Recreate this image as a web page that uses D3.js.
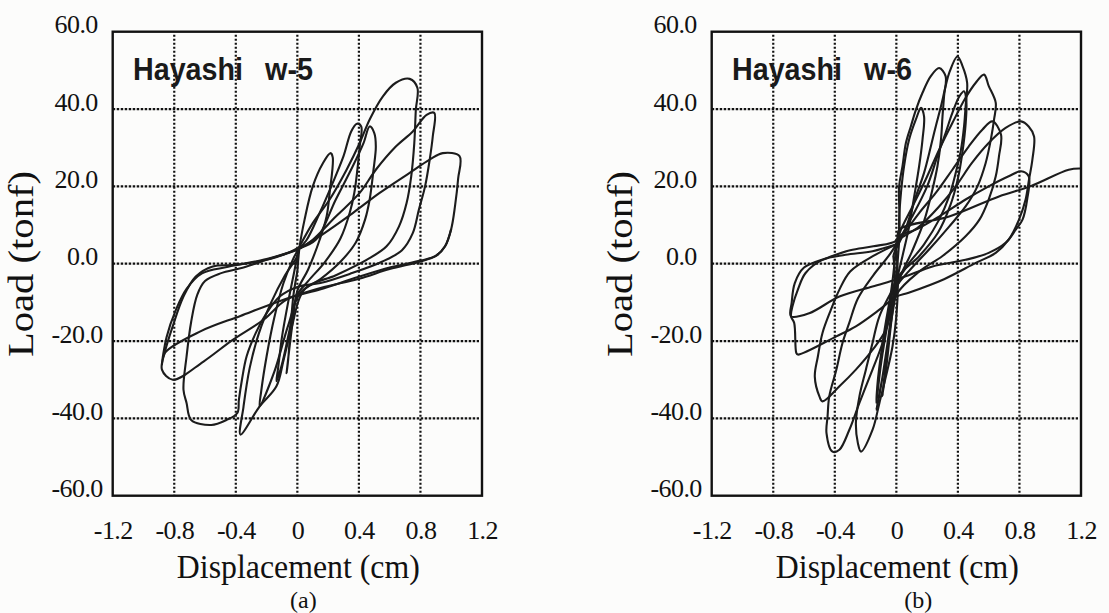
<!DOCTYPE html>
<html>
<head>
<meta charset="utf-8">
<script src="https://cdn.jsdelivr.net/npm/d3@7"></script>
<style>
  body { margin: 0; background: #fcfcfb; }
  svg { display: block; }
  .tick-label { font-family: "Liberation Serif", "Times New Roman", serif; font-size: 26px; fill: #111; letter-spacing: -0.6px; }
  .axis-title { font-family: "Liberation Serif", "Times New Roman", serif; fill: #111; }
  .specimen { font-family: "Liberation Sans", Arial, sans-serif; font-weight: bold; font-size: 31px; fill: #1a1a1a; }
</style>
</head>
<body>
<svg id="chart" width="1109" height="613"></svg>
<script>
// axis ticks (displacement in cm, load in tonf)
const dispTicks = [-1.2, -0.8, -0.4, 0, 0.4, 0.8, 1.2];
const loadTicks = [-60, -40, -20, 0, 20, 40, 60];
const dispGrid = [-0.8, -0.4, 0, 0.4, 0.8];
const loadGrid = [-40, -20, 0, 20, 40];

const specimenNames = ["w-5", "w-6"];
const panelLetters = ["(a)", "(b)"];

// hysteresis cycles, [displacement, load]
const w5Loops = [
  [[0.0,-2],[0.015,4.5],[0.047,11.4],[0.10,20],[0.166,26],[0.216,28.6],[0.23,27.5],[0.21,18.4],[0.19,12.2],[0.145,6.2],[0.07,-1.5],[0.0,-7],[-0.03,-15],[-0.055,-23],[-0.07,-28.3],[-0.06,-25],[-0.045,-17],[-0.025,-8],[0.0,-2]],
  [[0.01,4],[0.058,6],[0.145,13.1],[0.23,20.9],[0.30,27.8],[0.35,34.2],[0.387,36.2],[0.415,35.5],[0.405,30.3],[0.39,24.3],[0.37,18.3],[0.34,13.1],[0.28,6.5],[0.18,0.5],[0.07,-4.5],[0.0,-8],[-0.05,-17],[-0.10,-26],[-0.136,-30.4],[-0.125,-27],[-0.10,-19],[-0.06,-10],[-0.02,-2],[0.01,4]],
  [[0.01,4],[0.12,6.2],[0.25,16.6],[0.36,25.2],[0.43,31.2],[0.47,35.5],[0.50,33.8],[0.51,30.3],[0.495,24.3],[0.47,16.6],[0.44,11.4],[0.38,5.5],[0.28,0.5],[0.15,-4],[0.02,-7.5],[-0.06,-16],[-0.15,-28],[-0.245,-36.9],[-0.235,-33],[-0.2,-24],[-0.15,-14],[-0.09,-5],[-0.03,1],[0.01,4]],
  [[0.015,4.5],[0.10,10.5],[0.21,16.6],[0.32,24.3],[0.405,31.2],[0.47,37.3],[0.556,43.3],[0.64,46.8],[0.73,47.8],[0.78,45.5],[0.77,39.8],[0.76,31.2],[0.74,22.6],[0.71,15.7],[0.66,9.6],[0.58,4.5],[0.45,1],[0.25,-3],[0.05,-6.5],[-0.04,-17],[-0.09,-25],[-0.136,-31.7],[-0.245,-36.9],[-0.37,-44.2],[-0.35,-37],[-0.31,-27],[-0.25,-18],[-0.17,-10],[-0.08,-3],[0.0,2],[0.015,4.5]],
  [[0.02,4],[0.10,6.2],[0.25,12.2],[0.405,18.3],[0.51,24.3],[0.64,30.3],[0.75,34.2],[0.84,38.5],[0.89,39.0],[0.88,32.9],[0.86,26.9],[0.83,20],[0.79,14],[0.75,7.9],[0.68,3.5],[0.55,0.5],[0.35,-2.5],[0.15,-5],[0.0,-6],[-0.115,-8.5],[-0.2,-12.8],[-0.27,-17.9],[-0.33,-24],[-0.36,-30],[-0.38,-35.2],[-0.39,-38.6],[-0.46,-40.4],[-0.56,-41.7],[-0.69,-40.4],[-0.72,-36],[-0.74,-32.6],[-0.72,-24],[-0.69,-15],[-0.65,-8],[-0.6,-4.5],[-0.5,-2.5],[-0.35,-1],[-0.2,1],[-0.05,3],[0.02,4.5]],
  [[0.0,3.6],[0.145,7.1],[0.36,13.1],[0.535,18.3],[0.73,23.5],[0.86,26.9],[0.945,28.6],[1.054,27.8],[1.045,22],[1.025,15],[1.0,9],[0.96,4.5],[0.9,2],[0.8,0.8],[0.6,-1],[0.4,-3.4],[0.146,-6.7],[-0.07,-9.3],[-0.22,-14.5],[-0.42,-19.7],[-0.61,-25.3],[-0.81,-30],[-0.88,-27.4],[-0.86,-22.7],[-0.81,-16.2],[-0.74,-8.5],[-0.66,-3.3],[-0.55,-0.7],[-0.40,-0.3],[-0.2,1.0],[0.0,3.6]],
  [[1.0,9],[0.96,4.5],[0.9,2],[0.8,0.6],[0.6,-1.4],[0.4,-3.9],[0.15,-6.3],[-0.09,-9.3],[-0.37,-13.5],[-0.63,-17.5],[-0.86,-23],[-0.88,-26],[-0.85,-19],[-0.79,-12],[-0.72,-6.5],[-0.62,-2.5],[-0.45,-0.8],[-0.2,1.2],[0.0,3.6]]
];

const w6Loops = [
  [[0.0,-3],[0.018,6],[0.018,11.4],[0.03,18.3],[0.05,25.2],[0.083,32.1],[0.127,37.3],[0.16,40.3],[0.18,38.1],[0.17,32.1],[0.148,25.2],[0.116,17.4],[0.08,9],[0.04,2],[0.0,-5],[-0.03,-14],[-0.06,-25],[-0.09,-34.3],[-0.08,-30],[-0.05,-20],[-0.02,-10],[0.0,-3]],
  [[-0.02,2],[0.018,8],[0.018,20],[0.04,25.2],[0.062,31.2],[0.094,35.5],[0.127,39.8],[0.17,44.2],[0.224,48.5],[0.278,50.6],[0.32,48.5],[0.31,43.3],[0.30,38.1],[0.29,32.1],[0.267,25.2],[0.234,19.1],[0.18,11],[0.1,3],[0.02,-4],[-0.03,-14],[-0.08,-27],[-0.13,-37.8],[-0.11,-34],[-0.07,-24],[-0.03,-12],[-0.01,-3],[-0.02,2]],
  [[0.0,4],[0.06,9],[0.127,17.4],[0.18,23.5],[0.224,30.3],[0.256,35.5],[0.29,40.7],[0.32,45.9],[0.343,49.3],[0.397,53.6],[0.43,51.1],[0.46,46.8],[0.45,40.7],[0.44,35.5],[0.42,29.5],[0.386,23.5],[0.343,17.4],[0.278,11.4],[0.18,5],[0.08,0],[0.0,-5],[-0.11,-13.6],[-0.155,-20.5],[-0.198,-27.4],[-0.24,-34.3],[-0.263,-41.2],[-0.25,-46.4],[-0.23,-48.6],[-0.155,-43],[-0.11,-36],[-0.068,-29.2],[-0.025,-21.4],[0.0,-13.6],[0.01,-5],[0.0,4]],
  [[0.0,5],[0.1,12],[0.2,20],[0.267,27.8],[0.32,33.8],[0.364,39],[0.41,43.3],[0.44,44.6],[0.455,42],[0.45,36],[0.43,29],[0.4,22],[0.35,15],[0.27,8],[0.15,2],[0.0,-4],[-0.05,-14],[-0.1,-26],[-0.13,-36],[-0.12,-30],[-0.08,-18],[-0.03,-6],[0.0,5]],
  [[0.0,5],[0.03,8.8],[0.105,14.8],[0.19,21.7],[0.278,29.5],[0.364,36.4],[0.45,42.9],[0.516,46.8],[0.57,48.9],[0.6,46],[0.646,41.6],[0.635,37.3],[0.614,32.1],[0.58,26],[0.527,20],[0.45,14.8],[0.343,9.6],[0.22,4],[0.08,-2],[0.0,-6],[-0.047,-13.6],[-0.09,-20.5],[-0.155,-27.4],[-0.24,-36],[-0.306,-43],[-0.37,-48.1],[-0.415,-48.6],[-0.454,-43.8],[-0.447,-39.5],[-0.436,-34.3],[-0.39,-27.4],[-0.35,-20.5],[-0.306,-15.3],[-0.25,-9],[-0.15,-3],[-0.05,2],[0.0,5]],
  [[0.0,5],[0.148,13.1],[0.256,18.3],[0.364,24.3],[0.47,30.3],[0.56,34.7],[0.624,36.8],[0.68,33.4],[0.667,27.8],[0.646,22.6],[0.6,16.6],[0.54,11.4],[0.45,7.1],[0.3,2],[0.15,-2],[0.0,-8],[-0.068,-17.1],[-0.155,-22.3],[-0.263,-27.4],[-0.37,-31.7],[-0.48,-35.6],[-0.5,-34.3],[-0.53,-29.2],[-0.51,-24],[-0.48,-17.9],[-0.425,-11.9],[-0.37,-6.7],[-0.3,-2],[-0.15,2],[0.0,5]],
  [[0.0,5],[0.018,6.2],[0.148,9.6],[0.278,14.8],[0.386,20],[0.49,26],[0.60,31.2],[0.71,35.1],[0.81,36.8],[0.86,35.5],[0.895,32.9],[0.884,26.9],[0.862,21.7],[0.84,16.6],[0.797,11.4],[0.73,6.2],[0.646,2.8],[0.516,0.2],[0.31,-4],[0.08,-7.5],[0.0,-8.5],[-0.11,-11.9],[-0.263,-16.2],[-0.39,-18.8],[-0.64,-23.5],[-0.65,-23.1],[-0.664,-15.3],[-0.685,-13.6],[-0.675,-11],[-0.64,-6.7],[-0.59,-2.4],[-0.48,1],[-0.33,2.3],[-0.155,3.2],[0.0,5]],
  [[0.0,5],[0.018,7.1],[0.127,8.8],[0.278,12.2],[0.45,16.6],[0.6,20],[0.73,22.6],[0.81,23.9],[0.86,22.6],[0.85,16.6],[0.82,11.4],[0.776,8.8],[0.71,5.4],[0.6,2.8],[0.45,1],[0.235,-0.7],[0.08,-3],[0.0,-4.1],[-0.155,-5.9],[-0.37,-8.5],[-0.566,-12.8],[-0.685,-13.6],[-0.68,-10],[-0.66,-5],[-0.6,-1],[-0.45,1.5],[-0.3,3.5],[-0.15,4.5],[0.0,6],[0.018,8.8],[0.343,12.2],[0.667,17.4],[0.87,20],[1.12,24.3],[1.2,24.6]]
];

const allLoops = [w5Loops, w6Loops];

const svg = d3.select("#chart");

function drawPanel(i) {
  const dx = i * 599;
  const x = d3.scaleLinear().domain([-1.2, 1.2]).range([112.7 + dx, 482 + dx]);
  const y = d3.scaleLinear().domain([-60, 60]).range([495.7, 31.7]);
  const g = svg.append("g");

  // dotted grid
  g.selectAll(".vgrid")
    .data(dispGrid)
    .join("line")
    .attr("class", "vgrid")
    .attr("x1", d => x(d)).attr("x2", d => x(d))
    .attr("y1", y(60) + 3).attr("y2", y(-60))
    .attr("stroke", "#111").attr("stroke-width", 2.2)
    .attr("stroke-dasharray", "2,2");

  g.selectAll(".hgrid")
    .data(loadGrid)
    .join("line")
    .attr("class", "hgrid")
    .attr("x1", x(-1.2)).attr("x2", x(1.2) - 3)
    .attr("y1", d => y(d)).attr("y2", d => y(d))
    .attr("stroke", "#111").attr("stroke-width", 2.2)
    .attr("stroke-dasharray", "2.5,1.5");

  const line = d3.line()
    .x(d => x(d[0]))
    .y(d => y(d[1]))
    .curve(d3.curveCatmullRom.alpha(0.5));

  g.selectAll(".loop")
    .data(allLoops[i])
    .join("path")
    .attr("class", "loop")
    .attr("d", line)
    .attr("fill", "none")
    .attr("stroke", "#1c1c1c")
    .attr("stroke-width", 2.1)
    .attr("stroke-linejoin", "round");

  // frame
  g.append("rect")
    .attr("x", x(-1.2)).attr("y", y(60))
    .attr("width", x(1.2) - x(-1.2)).attr("height", y(-60) - y(60))
    .attr("fill", "none").attr("stroke", "#111").attr("stroke-width", 2.4);

  // axes, text only
  g.append("g")
    .attr("transform", `translate(${x(-1.2)},0)`)
    .call(d3.axisLeft(y).tickValues(loadTicks).tickSize(0).tickPadding(15).tickFormat(d => d.toFixed(1)))
    .call(a => a.select(".domain").remove())
    .selectAll("text")
    .attr("class", "tick-label")
    .attr("dy", "0.04em")
    .attr("dx", d => d < 0 ? 5 : 0);

  g.append("g")
    .attr("transform", `translate(0,${y(-60)})`)
    .call(d3.axisBottom(x).tickValues(dispTicks).tickSize(0).tickFormat(d => d === 0 ? "0" : d.toFixed(1)))
    .call(a => a.select(".domain").remove())
    .selectAll("text")
    .attr("class", "tick-label")
    .attr("y", 43)
    .attr("dy", null);

  g.append("text")
    .attr("class", "axis-title")
    .attr("x", x(0) + 1).attr("y", 578)
    .attr("text-anchor", "middle")
    .style("font-size", "34px")
    .attr("textLength", 243).attr("lengthAdjust", "spacingAndGlyphs")
    .text("Displacement (cm)");

  g.append("text")
    .attr("class", "axis-title")
    .attr("x", x(0) + (i === 0 ? 6 : 22)).attr("y", 607.5)
    .attr("text-anchor", "middle")
    .style("font-size", "24px")
    .text(panelLetters[i]);

  g.append("text")
    .attr("class", "axis-title")
    .attr("transform", `translate(${33 + dx},264) rotate(-90)`)
    .attr("text-anchor", "middle")
    .style("font-size", "36px")
    .attr("textLength", 186).attr("lengthAdjust", "spacingAndGlyphs")
    .text("Load (tonf)");

  g.append("text")
    .attr("class", "specimen")
    .attr("x", 133 + dx).attr("y", 80)
    .attr("textLength", 110).attr("lengthAdjust", "spacingAndGlyphs")
    .text("Hayashi");

  g.append("text")
    .attr("class", "specimen")
    .attr("x", 265 + dx).attr("y", 80)
    .attr("textLength", 48).attr("lengthAdjust", "spacingAndGlyphs")
    .text(specimenNames[i]);
}

drawPanel(0);
drawPanel(1);
</script>
</body>
</html>
